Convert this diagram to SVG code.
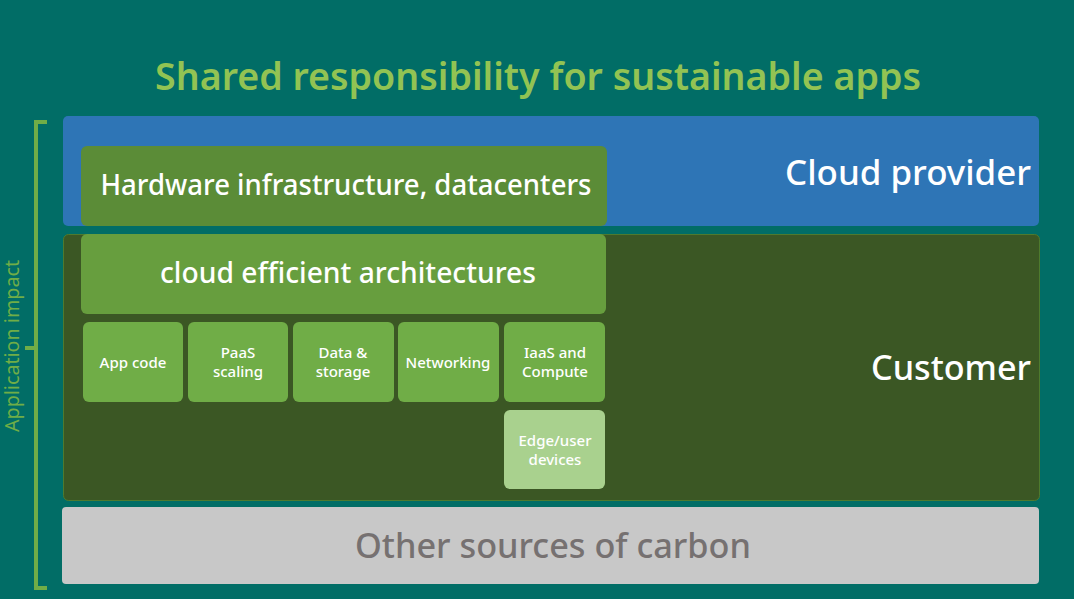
<svg xmlns="http://www.w3.org/2000/svg" width="1074" height="599" viewBox="0 0 1074 599">
<style>
text{font-family:"Noto Sans","Open Sans","Liberation Sans",sans-serif;}
.w{fill:#ffffff;font-weight:500;}
.small{font-size:15px;fill:#ffffff;text-anchor:middle;font-weight:500;}
.tile{fill:#70AD47;}
</style>
<rect x="0" y="0" width="1074" height="599" fill="#016D66"/>
<text x="538" y="90" font-size="37" font-weight="600" fill="#92C353" text-anchor="middle" textLength="766" lengthAdjust="spacingAndGlyphs">Shared responsibility for sustainable apps</text>
<g id="bracket" fill="none" stroke="#70AD47" stroke-width="4">
<path d="M47,122 H36 V588 H47 M36,348 H25"/>
</g>
<text x="19" y="346" font-size="19" fill="#70AD47" text-anchor="middle" transform="rotate(-90 19 346)" textLength="172" lengthAdjust="spacingAndGlyphs">Application impact</text>
<g id="cloud-provider">
<rect x="63" y="116" width="976" height="110" rx="5" fill="#2E75B6"/>
<text x="1031" y="185" font-size="35" class="w" text-anchor="end" textLength="246" lengthAdjust="spacingAndGlyphs">Cloud provider</text>
</g>
<g id="customer">
<rect x="63.5" y="234.5" width="976" height="266" rx="5" fill="#3B5724" stroke="#4E7A2E"/>
<text x="1031" y="380" font-size="35" class="w" text-anchor="end" textLength="160" lengthAdjust="spacingAndGlyphs">Customer</text>
</g>
<g id="other">
<rect x="62" y="507" width="977" height="77" rx="4" fill="#C8C8C8"/>
<text x="553" y="558" font-size="34" font-weight="500" fill="#767171" text-anchor="middle" textLength="396" lengthAdjust="spacingAndGlyphs">Other sources of carbon</text>
</g>
<g id="hardware">
<rect x="81" y="146" width="526" height="80" rx="6" fill="#5B8C37"/>
<text x="346" y="195" font-size="28" class="w" text-anchor="middle" textLength="491" lengthAdjust="spacingAndGlyphs">Hardware infrastructure, datacenters</text>
</g>
<g id="cloud-efficient">
<rect x="81" y="234" width="525" height="80" rx="6" fill="#679E3E"/>
<text x="348" y="283" font-size="28" class="w" text-anchor="middle" textLength="376" lengthAdjust="spacingAndGlyphs">cloud efficient architectures</text>
</g>
<g id="app-code">
<rect class="tile" x="83" y="322" width="100" height="80" rx="6"/>
<text class="small" x="133" y="368">App code</text>
</g>
<g id="paas">
<rect class="tile" x="188" y="322" width="100" height="80" rx="6"/>
<text class="small" x="238" y="358">PaaS</text>
<text class="small" x="238" y="377">scaling</text>
</g>
<g id="data">
<rect class="tile" x="293" y="322" width="101" height="80" rx="6"/>
<text class="small" x="343" y="358">Data &amp;</text>
<text class="small" x="343" y="377">storage</text>
</g>
<g id="networking">
<rect class="tile" x="398" y="322" width="101" height="80" rx="6"/>
<text class="small" x="448" y="368">Networking</text>
</g>
<g id="iaas">
<rect class="tile" x="504" y="322" width="101" height="80" rx="6"/>
<text class="small" x="555" y="358">IaaS and</text>
<text class="small" x="555" y="377">Compute</text>
</g>
<g id="edge">
<rect x="504" y="410" width="101" height="79" rx="6" fill="#A9D18E"/>
<text class="small" x="555" y="446">Edge/user</text>
<text class="small" x="555" y="465">devices</text>
</g>
<g id="connectors"/>
</svg>
